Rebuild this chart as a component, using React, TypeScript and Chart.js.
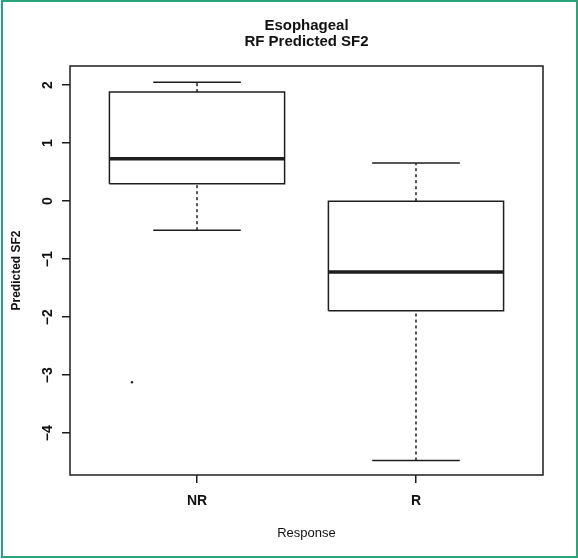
import React, { useEffect, useRef } from "react";
import { Chart, registerables } from "chart.js";

Chart.register(...registerables);

// ---- data ----
const categories = ["NR", "R"];
const whiskerLow = [-0.5, -4.47];
const q1 = [0.3, -1.89];
const median = [0.73, -1.22];
const q3 = [1.88, 0.0];
const whiskerHigh = [2.05, 0.66];
const strayX = [0.703];
const strayY = [-3.12];
const yTicks = [-4, -3, -2, -1, 0, 1, 2];
const titleLines = ["Esophageal", "RF Predicted SF2"];
const xTitle = "Response";
const yTitle = "Predicted SF2";

const FONT = "'Liberation Sans', Arial, Helvetica, sans-serif";
const INK = "#1e1e1e";
const BOX_HALF = 0.4;
const CAP_HALF = 0.2;

function seg(points: { x: number; y: number }[], width: number, dash: number[] = []) {
  return {
    data: points,
    showLine: true,
    borderColor: INK,
    borderWidth: width,
    borderDash: dash,
    pointRadius: 0,
    fill: false,
    tension: 0,
  };
}

function buildDatasets() {
  const ds: any[] = [];
  categories.forEach((_, i) => {
    const x = i + 1;
    ds.push(
      seg(
        [
          { x: x - BOX_HALF, y: q1[i] },
          { x: x + BOX_HALF, y: q1[i] },
          { x: x + BOX_HALF, y: q3[i] },
          { x: x - BOX_HALF, y: q3[i] },
          { x: x - BOX_HALF, y: q1[i] },
        ],
        1.5
      )
    );
    ds.push(seg([{ x: x - BOX_HALF, y: median[i] }, { x: x + BOX_HALF, y: median[i] }], 3.5));
    ds.push(seg([{ x, y: q3[i] }, { x, y: whiskerHigh[i] }], 1.5, [3, 3]));
    ds.push(seg([{ x, y: whiskerLow[i] }, { x, y: q1[i] }], 1.5, [3, 3]));
    ds.push(seg([{ x: x - CAP_HALF, y: whiskerHigh[i] }, { x: x + CAP_HALF, y: whiskerHigh[i] }], 1.5));
    ds.push(seg([{ x: x - CAP_HALF, y: whiskerLow[i] }, { x: x + CAP_HALF, y: whiskerLow[i] }], 1.5));
  });
  ds.push({
    data: strayX.map((x, i) => ({ x, y: strayY[i] })),
    showLine: false,
    pointRadius: 1.2,
    pointBackgroundColor: INK,
    pointBorderWidth: 0,
  });
  return ds;
}

const decorPlugin = {
  id: "decor",
  beforeDraw(chart: any) {
    const ctx = chart.ctx;
    ctx.save();
    ctx.fillStyle = "#ffffff";
    ctx.fillRect(0, 0, chart.width, chart.height);
    ctx.restore();
  },
  afterDraw(chart: any) {
    const ctx = chart.ctx;
    const a = chart.chartArea;
    const ys = chart.scales.y;
    ctx.save();
    // frame
    ctx.strokeStyle = INK;
    ctx.lineWidth = 1.5;
    ctx.strokeRect(a.left, a.top, a.right - a.left, a.bottom - a.top);
    // titles
    ctx.fillStyle = "#111";
    ctx.textAlign = "center";
    ctx.textBaseline = "alphabetic";
    ctx.font = `bold 15px ${FONT}`;
    const cx = (a.left + a.right) / 2;
    ctx.fillText(titleLines[0], cx, 30);
    ctx.fillText(titleLines[1], cx, 46);
    // x title
    ctx.font = `13px ${FONT}`;
    ctx.fillText(xTitle, cx, 537);
    // y title
    ctx.save();
    ctx.font = `bold 12px ${FONT}`;
    ctx.translate(19.5, (a.top + a.bottom) / 2);
    ctx.rotate(-Math.PI / 2);
    ctx.fillText(yTitle, 0, 0);
    ctx.restore();
    // y tick labels (rotated as in R)
    ctx.font = `bold 14px ${FONT}`;
    ys.ticks.forEach((t: any) => {
      const py = ys.getPixelForValue(t.value);
      const label = t.value < 0 ? "\u2212" + Math.abs(t.value) : String(t.value);
      ctx.save();
      ctx.translate(51.5, py);
      ctx.rotate(-Math.PI / 2);
      ctx.fillText(label, 0, 0);
      ctx.restore();
    });
    // green outer border
    ctx.strokeStyle = "#2aa478";
    ctx.lineWidth = 2;
    ctx.strokeRect(2, 1, 575, 556);
    ctx.restore();
  },
};

export default function App() {
  const ref = useRef<HTMLCanvasElement | null>(null);
  useEffect(() => {
    if (!ref.current) return;
    const chart = new Chart(ref.current, {
      type: "scatter",
      data: { datasets: buildDatasets() },
      options: {
        animation: false,
        responsive: false,
        devicePixelRatio: 1,
        layout: { padding: { left: 0, top: 66, right: 35, bottom: 0 } },
        plugins: { legend: { display: false }, tooltip: { enabled: false }, title: { display: false } },
        scales: {
          x: {
            type: "linear",
            min: 0.42,
            max: 2.58,
            afterBuildTicks: (s: any) => {
              s.ticks = categories.map((_, i) => ({ value: i + 1 }));
            },
            afterFit: (s: any) => {
              s.height = 84;
            },
            grid: { display: true, drawOnChartArea: false, drawTicks: true, tickLength: 8, color: INK, lineWidth: 1.5 },
            border: { display: false },
            ticks: {
              color: "#111",
              font: { family: FONT, size: 14, weight: "bold" },
              padding: 10,
              maxRotation: 0,
              callback: (v: any) => categories[Number(v) - 1] ?? "",
            },
          },
          y: {
            type: "linear",
            min: -4.72,
            max: 2.33,
            afterBuildTicks: (s: any) => {
              s.ticks = yTicks.map((v) => ({ value: v }));
            },
            afterFit: (s: any) => {
              s.width = 70;
            },
            grid: { display: true, drawOnChartArea: false, drawTicks: true, tickLength: 8, color: INK, lineWidth: 1.5 },
            border: { display: false },
            ticks: { display: false },
          },
        },
      },
      plugins: [decorPlugin],
    });
    return () => chart.destroy();
  }, []);
  return (
    <div style={{ position: "absolute", left: 0, top: 0, width: 578, height: 559 }}>
      <canvas ref={ref} width={578} height={559} style={{ width: 578, height: 559, display: "block" }} />
    </div>
  );
}
